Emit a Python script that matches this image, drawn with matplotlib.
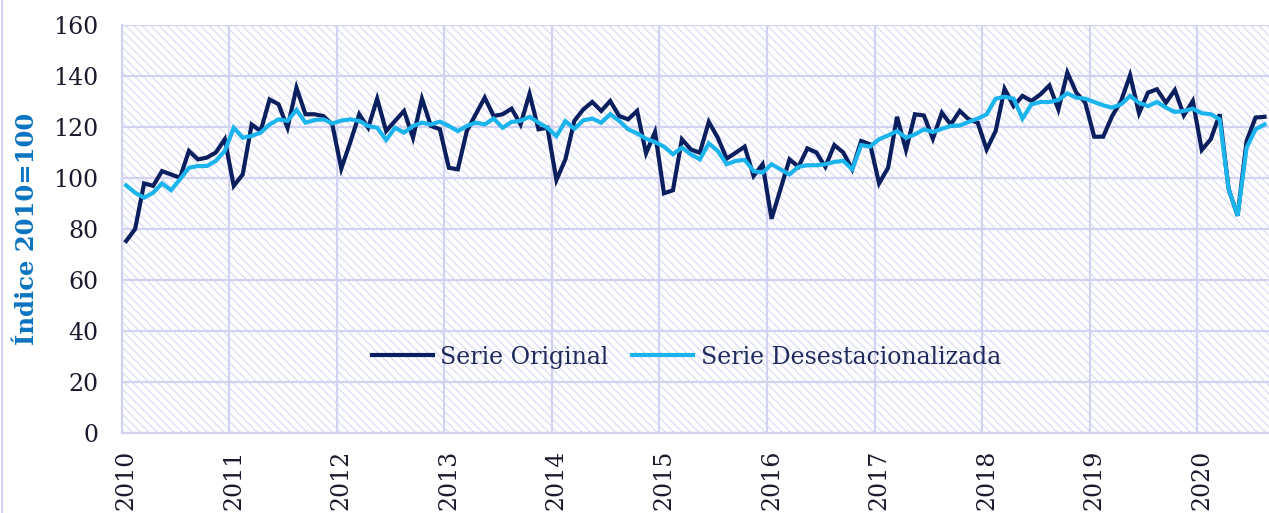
import numpy as np
import matplotlib.pyplot as plt
from matplotlib.patches import Rectangle
from matplotlib.lines import Line2D

# Monthly index, Jan 2010 - Aug 2020
years = [str(y) for y in range(2010, 2021)]

original = [
    75.3, 80.0, 97.9, 96.9, 102.7, 101.4, 100.1, 110.6, 107.3, 108.0, 110.0, 115.2,   # 2010
    96.9, 101.4, 121.0, 118.4, 130.8, 128.9, 119.7, 135.4, 125.0, 125.0, 124.3, 121.0,  # 2011
    103.7, 114.0, 125.0, 119.7, 131.1, 118.4, 122.4, 126.3, 115.8, 131.1, 120.4, 119.1, # 2012
    104.0, 103.4, 118.4, 125.0, 131.5, 124.3, 125.0, 127.2, 121.0, 133.0, 119.1, 119.7, # 2013
    99.2, 107.3, 122.4, 126.9, 129.8, 126.3, 130.2, 124.3, 123.0, 126.3, 109.7, 118.0,  # 2014
    94.0, 95.2, 115.2, 111.2, 109.9, 122.0, 115.8, 107.6, 109.9, 112.3, 100.8, 105.4,   # 2015
    84.0, 95.6, 107.3, 104.4, 111.6, 110.0, 104.4, 112.9, 110.0, 103.4, 114.5, 113.2,   # 2016
    97.9, 104.0, 124.0, 111.0, 125.0, 124.5, 115.4, 125.6, 121.0, 126.3, 123.0, 121.7,  # 2017
    111.2, 118.4, 135.0, 128.2, 132.2, 130.2, 132.8, 136.3, 126.9, 141.3, 133.5, 129.5, # 2018
    116.2, 116.2, 124.3, 130.2, 140.3, 125.4, 133.5, 134.8, 129.5, 134.5, 124.6, 130.2, # 2019
    111.0, 115.2, 125.0, 95.6, 85.2, 114.5, 123.7, 124.0,                               # 2020
]

desestacionalizada = [
    97.1, 94.2, 92.3, 94.2, 97.9, 95.2, 99.5, 104.0, 104.7, 104.7, 106.7, 110.6,        # 2010
    119.7, 115.8, 116.5, 117.8, 121.0, 123.0, 122.4, 126.7, 121.7, 122.7, 123.0, 121.4, # 2011
    122.5, 123.0, 122.4, 120.4, 119.7, 114.9, 119.7, 117.8, 120.4, 121.7, 121.0, 122.1, # 2012
    120.4, 118.4, 120.4, 121.7, 121.0, 123.3, 119.7, 122.0, 122.4, 124.0, 121.7, 119.7, # 2013
    116.4, 122.3, 119.3, 122.6, 123.3, 121.7, 125.0, 122.4, 119.1, 117.5, 115.4, 114.1, # 2014
    112.3, 109.3, 111.9, 109.3, 107.3, 113.6, 110.6, 105.4, 106.7, 107.1, 102.7, 102.1, # 2015
    105.4, 103.4, 101.4, 104.4, 105.0, 105.0, 105.4, 106.3, 106.7, 103.4, 112.9, 112.3, # 2016
    115.2, 116.7, 118.4, 115.8, 117.1, 119.1, 118.0, 119.3, 120.4, 120.6, 122.0, 123.3, # 2017
    125.0, 131.1, 131.9, 131.1, 123.3, 128.9, 129.8, 129.8, 130.6, 133.2, 131.5, 131.1, # 2018
    129.8, 128.5, 127.6, 128.9, 132.2, 129.5, 128.2, 129.8, 127.6, 125.9, 126.3, 127.2, # 2019
    125.4, 125.0, 123.0, 95.6, 85.2, 111.9, 119.1, 121.0,                               # 2020
]

lav = '#D2D2F2'
hatch_col = '#DCDCF6'
navy = '#0B1F5E'
cyan = '#1CB4EC'
txt = '#1A1A2E'

plt.rcParams['font.family'] = ['DejaVu Serif']
plt.rcParams['hatch.color'] = hatch_col
plt.rcParams['hatch.linewidth'] = 0.9

fig = plt.figure(figsize=(12.69, 5.13), dpi=100)
ax = fig.add_axes([121.7 / 1269, 80 / 513, 1 - 121.7 / 1269, 408 / 513])

x = np.arange(len(original))

# hatched background
bg = Rectangle((0, 0), 1, 1, transform=ax.transAxes, facecolor='white',
               edgecolor=hatch_col, hatch='\\\\\\\\', linewidth=0, zorder=0)
ax.add_patch(bg)

ax.plot(x, original, color=navy, lw=3.0, label='Serie Original', zorder=3,
        solid_joinstyle='miter')
ax.plot(np.arange(len(desestacionalizada)), desestacionalizada, color=cyan,
        lw=3.0, label='Serie Desestacionalizada', zorder=4, solid_joinstyle='miter')

ax.set_xlim(-0.5, 127.5)
ax.set_ylim(0, 160)
ax.set_yticks(np.arange(0, 161, 20))
ax.set_xticks(np.arange(0, 12 * len(years), 12))
ax.set_xticklabels(years, rotation=90)
ax.set_xticks(np.arange(-0.5, 128, 12), minor=True)

ax.grid(axis='y', color=lav, lw=1.6, zorder=1)
ax.grid(axis='x', which='minor', color=lav, lw=1.6, zorder=1)
ax.tick_params(axis='both', which='both', length=0, colors=txt, labelsize=17)
ax.tick_params(axis='y', pad=17)
ax.tick_params(axis='x', pad=12)

for s in ['top', 'right']:
    ax.spines[s].set_visible(False)
for s in ['left', 'bottom']:
    ax.spines[s].set_color(lav)
    ax.spines[s].set_linewidth(1.6)

ax.set_ylabel('Índice 2010=100', color='#0A74C2', fontsize=17.5, fontweight='bold')
ax.yaxis.set_label_coords(-0.072, 0.5)

leg = ax.legend(loc='center', bbox_to_anchor=(0.492, 0.186), ncol=2, frameon=False,
                fontsize=17, handlelength=2.6, columnspacing=1.0, handletextpad=0.3)
for t in leg.get_texts():
    t.set_color('#1F2A5C')

# thin border at the left edge of the picture
fig.add_artist(Line2D([1.5 / 1269, 1.5 / 1269], [0, 1], color=lav, lw=1.5))

fig.savefig('out.png', dpi=100)
